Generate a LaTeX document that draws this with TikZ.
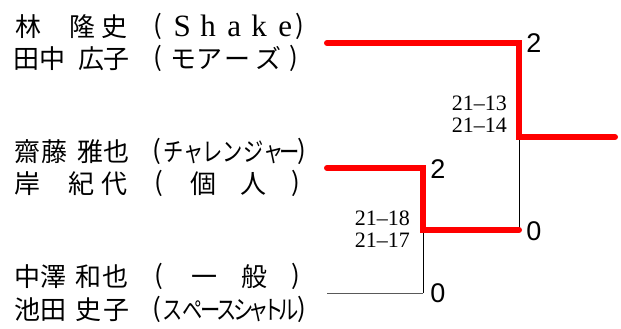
\documentclass[tikz,border=0pt]{standalone}
\usepackage{fontspec}
\usepackage{graphicx}
\newfontfamily\jpfont{Noto Sans CJK JP}
\newfontfamily\digitfont{Liberation Sans}
\newfontfamily\seriffont{Liberation Serif}
\newcommand\pc[2]{\rlap{\hspace*{#1pt}\makebox[0pt]{#2}}}
\newcommand\nc[2]{\pc{#1}{\scalebox{0.78}[1]{#2}}}
\newcommand\pl[1]{\pc{#1}{\raisebox{2pt}{(}}}
\newcommand\pr[1]{\pc{#1}{\raisebox{2pt}{)}}}
\newcommand\lt[2]{\pc{#1}{\seriffont\fontsize{31}{31}\selectfont #2}}
\begin{document}
\begin{tikzpicture}[x=1pt,y=-1pt,
  namerow/.style={anchor=base west, inner sep=0pt, font=\jpfont\fontsize{26}{26}\selectfont},
  score/.style={inner sep=0pt, font=\digitfont\fontsize{27}{27}\selectfont},
  games/.style={anchor=east, inner sep=0pt, align=right, font=\seriffont\fontsize{22}{22}\selectfont},
  win/.style={red, line width=6pt, line cap=round, line join=miter},
  lose/.style={black, line width=1pt},
  losegray/.style={black!65, line width=1pt}]
\useasboundingbox (0,0) rectangle (621,329);

% player rows
\node[namerow] (p1) at (0,36.5) {\pc{28}{林}\pc{82}{隆}\pc{114}{史}\pl{158}\lt{182}{S}\lt{208}{h}\lt{234}{a}\lt{259}{k}\lt{285}{e}\pr{300}\hspace*{310pt}};
\node[namerow] (p2) at (0,69) {\pc{26}{田}\pc{52}{中}\pc{91}{広}\pc{116}{子}\pl{158}\pc{183}{モ}\pc{209}{ア}\pc{237}{ー}\pc{268}{ズ}\pr{294}\hspace*{310pt}};
\node[namerow] (p3) at (0,161) {\pc{27}{齋}\pc{54}{藤}\pc{90}{雅}\pc{116}{也}\pl{157}\nc{173}{チ}\nc{193}{ャ}\nc{212}{レ}\nc{232}{ン}\nc{253}{ジ}\nc{273}{ャ}\nc{289}{ー}\pr{302}\hspace*{310pt}};
\node[namerow] (p4) at (0,193) {\pc{27}{岸}\pc{81}{紀}\pc{114}{代}\pl{159}\pc{203}{個}\pc{253}{人}\pr{296}\hspace*{310pt}};
\node[namerow] (p5) at (0,286) {\pc{27}{中}\pc{53}{澤}\pc{88}{和}\pc{115}{也}\pl{159}\pc{204}{一}\pc{254}{般}\pr{296}\hspace*{310pt}};
\node[namerow] (p6) at (0,319) {\pc{27}{池}\pc{53}{田}\pc{88}{史}\pc{116}{子}\pl{157}\nc{172}{ス}\nc{192}{ペ}\nc{210}{ー}\nc{226}{ス}\nc{243}{シ}\nc{258}{ャ}\nc{273}{ト}\nc{288}{ル}\pr{302}\hspace*{310pt}};

% bracket points
\coordinate (a1) at (327,43);
\coordinate (a2) at (519,43);
\coordinate (f1) at (519,137);
\coordinate (f2) at (615,137);
\coordinate (b1) at (327,168);
\coordinate (b2) at (423,168);
\coordinate (m1) at (423,230);
\coordinate (m2) at (519,230);
\coordinate (c1) at (423,293);
\coordinate (c2) at (327,293);

% losing lines
\draw[lose] (f1) -- (m2);
\draw[lose] (m1) -- (c1);
\draw[losegray] (c1) -- (c2);

% winning lines
\draw[win] (a1) -- (a2) -- (f1) -- (f2);
\draw[win] (b1) -- (b2) -- (m1) -- (m2);

% scores
\node[score] (s1) at (534,43) {2};
\node[score] (s2) at (534,231) {0};
\node[score] (s3) at (438,169) {2};
\node[score] (s4) at (438,293) {0};

% game scores
\node[games] (g1) at (507,114) {21–13\\21–14};
\node[games] (g2) at (410,229) {21–18\\21–17};
\end{tikzpicture}
\end{document}
